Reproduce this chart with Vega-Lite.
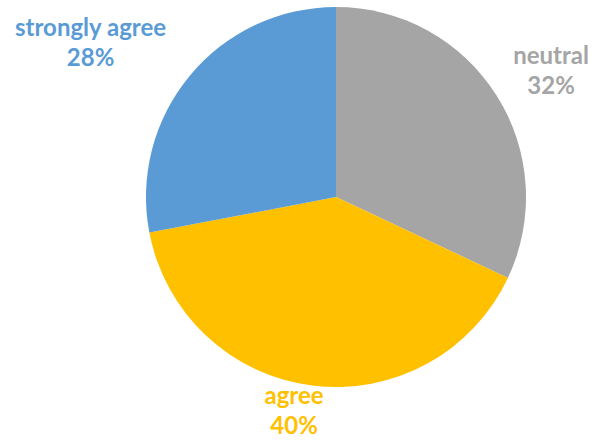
{
  "$schema": "https://vega.github.io/schema/vega-lite/v6.json",
  "width": 380,
  "height": 380,
  "autosize": "none",
  "padding": {"left": 146, "top": 7, "right": 73, "bottom": 54},
  "config": {"view": {"stroke": null}},
  "data": {"values": [
    {"category": "neutral", "pct": 32, "label": "neutral\n32%", "order": 1},
    {"category": "agree", "pct": 40, "label": "agree\n40%", "order": 2},
    {"category": "strongly agree", "pct": 28, "label": "strongly agree\n28%", "order": 3}
  ]},
  "encoding": {
    "theta": {"field": "pct", "type": "quantitative", "stack": true},
    "order": {"field": "order", "type": "quantitative"},
    "color": {"field": "category", "type": "nominal", "legend": null,
      "scale": {"domain": ["neutral", "agree", "strongly agree"], "range": ["#A5A5A5", "#FFC000", "#5B9BD5"]}}
  },
  "layer": [
    {"mark": {"type": "arc", "outerRadius": 190}},
    {"mark": {"type": "text", "radius": 250, "dx": 4, "dy": -6, "font": "Lato", "fontWeight": "bold", "fontSize": 24, "lineBreak": "\n", "lineHeight": 30},
     "encoding": {"text": {"condition": {"test": "datum.category === 'neutral'", "field": "label"}, "value": ""}}},
    {"mark": {"type": "text", "radius": 215, "dx": -15, "dy": -13, "font": "Lato", "fontWeight": "bold", "fontSize": 24, "lineBreak": "\n", "lineHeight": 30},
     "encoding": {"text": {"condition": {"test": "datum.category === 'agree'", "field": "label"}, "value": ""}}},
    {"mark": {"type": "text", "radius": 290, "dx": -22, "dy": 17, "font": "Lato", "fontWeight": "bold", "fontSize": 24, "lineBreak": "\n", "lineHeight": 30},
     "encoding": {"text": {"condition": {"test": "datum.category === 'strongly agree'", "field": "label"}, "value": ""}}}
  ]
}
